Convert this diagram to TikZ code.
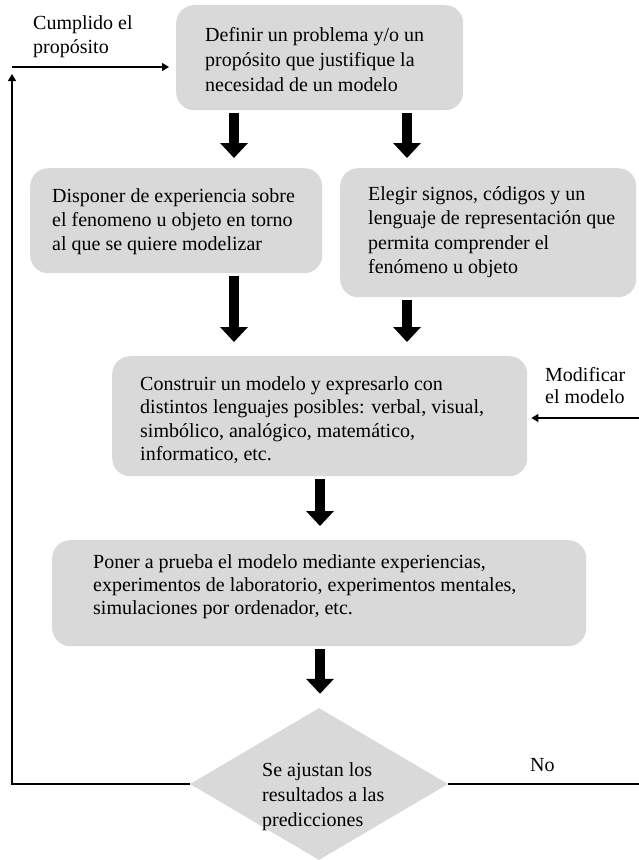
\documentclass[tikz,border=0pt]{standalone}
\usepackage{fontspec}
\setmainfont{Liberation Serif}
\usetikzlibrary{arrows.meta,shapes.geometric}
\definecolor{boxgray}{RGB}{217,217,217}
\begin{document}
\begin{tikzpicture}[x=1pt,y=-1pt,
  box/.style={draw=none, fill=boxgray, rounded corners=18pt, anchor=north west, inner sep=0pt},
  txt/.style={anchor=north west, inner sep=0pt, align=left, font=\fontsize{20}{#1}\selectfont},
  txt/.default=24.5,
  bigarrow/.style={line width=9.5pt, -{Triangle[length=15pt,width=27pt]}, shorten <=3pt},
  thinarrow/.style={line width=1.3pt, -{Triangle[length=7pt,width=8pt]}},
  thinline/.style={line width=1.3pt}]
\useasboundingbox (0,0) rectangle (639,860);

% boxes
\node[box, minimum width=287pt, minimum height=105pt] (b1) at (176,5) {};
\node[box, minimum width=292pt, minimum height=105pt] (b2) at (30,168) {};
\node[box, minimum width=296pt, minimum height=129pt] (b3) at (340,168) {};
\node[box, minimum width=415pt, minimum height=120pt] (b4) at (112,356) {};
\node[box, minimum width=534pt, minimum height=106pt] (b5) at (52,540) {};
\node[diamond, fill=boxgray, draw=none, minimum width=258pt, minimum height=152pt, inner sep=0pt] (d) at (319,784) {};

% texts
\node[txt=25] (t1) at (205,27) {Definir un problema y/o un\\propósito que justifique la\\necesidad de un modelo};
\node[txt=24] (t2) at (52,188) {Disponer de experiencia sobre\\el fenomeno u objeto en torno\\al que se quiere modelizar};
\node[txt=24.5] (t3) at (368,186) {Elegir signos, códigos y un\\lenguaje de representación que\\permita comprender el\\fenómeno u objeto};
\node[txt=23.5] (t4) at (140,376) {Construir un modelo y expresarlo con\\distintos lenguajes posibles: verbal, visual,\\simbólico, analógico, matemático,\\informatico, etc.};
\node[txt=23.3] (t5) at (93,554) {Poner a prueba el modelo mediante experiencias,\\experimentos de laboratorio, experimentos mentales,\\simulaciones por ordenador, etc.};
\node[txt=25] (t6) at (262,762) {Se ajustan los\\resultados a las\\predicciones};
\node[txt=24] (t7) at (33,15) {Cumplido el\\propósito};
\node[txt=22] (t8) at (545,367) {Modificar\\el modelo};
\node[txt] (t9) at (530,758) {No};

% helper coordinates
\coordinate (xL) at (234,0);
\coordinate (xR) at (407,0);
\coordinate (xM) at (320,0);
\coordinate (cBL) at (12,784);
\coordinate (cUp) at (12,74);
\coordinate (cTL) at (12,67);
\coordinate (cR) at (639,784);
\coordinate (cMod) at (639,418);

% thick arrows
\draw[bigarrow, shorten >=10pt] (b1.south -| xL) -- (b2.north -| xL);
\draw[bigarrow, shorten >=10pt] (b1.south -| xR) -- (b3.north -| xR);
\draw[bigarrow, shorten >=14pt] (b2.south -| xL) -- (b4.north -| xL);
\draw[bigarrow, shorten >=14pt] (b3.south -| xR) -- (b4.north -| xR);
\draw[bigarrow, shorten >=14pt] (b4.south -| xM) -- (b5.north -| xM);
\draw[bigarrow, shorten >=14pt] (b5.south -| xM) -- (d.north -| xM);

% thin connectors
\draw[thinarrow] (d.west) -- (cBL) -- (cUp);
\draw[thinarrow, shorten >=7pt] (cTL) -- (cTL -| b1.west);
\draw[thinline] (d.east) -- (cR);
\draw[thinarrow, shorten >=4pt] (cMod) -- (cMod -| b4.east);
\end{tikzpicture}
\end{document}
